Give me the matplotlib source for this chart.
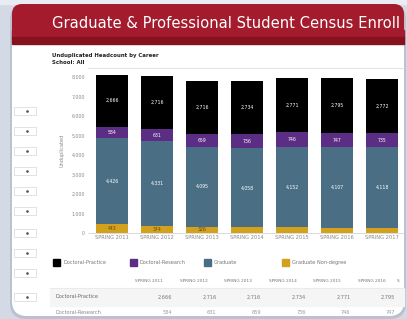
import matplotlib
matplotlib.use('Agg')
import matplotlib.pyplot as plt
from matplotlib.patches import FancyBboxPatch, Rectangle
import numpy as np

# data
semesters = ['SPRING 2011', 'SPRING 2012', 'SPRING 2013', 'SPRING 2014',
             'SPRING 2015', 'SPRING 2016', 'SPRING 2017']
doctoral_practice = [2666, 2716, 2716, 2734, 2771, 2795, 2772]
doctoral_research = [584, 631, 659, 736, 746, 747, 735]
graduate = [4426, 4331, 4095, 4058, 4152, 4107, 4118]
non_degree = [443, 374, 326, 290, 285, 280, 270]
careers = ['Doctoral-Practice', 'Doctoral-Research', 'Graduate', 'Graduate Non-degree']

colors = {'Doctoral-Practice': '#000000', 'Doctoral-Research': '#5b2d84',
          'Graduate': '#4a6f84', 'Graduate Non-degree': '#d4a11c'}

W, H = 407, 319
fig = plt.figure(figsize=(W / 100, H / 100), dpi=100)
fig.patch.set_facecolor('#d3d9e5')

# pixel-space layer for the page decoration
bg = fig.add_axes([0, 0, 1, 1])
bg.set_xlim(0, W)
bg.set_ylim(H, 0)
bg.axis('off')

bg.add_patch(Rectangle((0, 0), W, 4, color='#e9ecf2', zorder=0))
# card shadow + card
bg.add_patch(FancyBboxPatch((10, 4), 396, 315, boxstyle='round,pad=0,rounding_size=16',
                            fc='#aab2c2', ec='none', alpha=0.6, zorder=1))
card = FancyBboxPatch((12, 4), 392, 312, boxstyle='round,pad=0,rounding_size=15',
                      fc='white', ec='none', zorder=2)
bg.add_patch(card)

# red header
bg.add_patch(FancyBboxPatch((12, 4), 392, 39, boxstyle='round,pad=0,rounding_size=10',
                            fc='#a51b2e', ec='none', zorder=3))
bg.add_patch(Rectangle((12, 30), 392, 8, color='#a51b2e', zorder=3))
bg.add_patch(Rectangle((12, 37), 392, 7, color='#86121f', zorder=3))
# the screenshot cuts the title after "Enroll"
bg.text(52, 24, 'Graduate & Professional Student Census Enroll', color='white',
        fontsize=10.6, va='center', ha='left', zorder=4)

# chart subtitle
bg.text(52, 55, 'Unduplicated Headcount by Career', fontsize=3.9, fontweight='bold',
        color='#222222', va='center', zorder=4)
bg.text(52, 63, 'School: All', fontsize=3.9, fontweight='bold',
        color='#222222', va='center', zorder=4)
bg.plot([88, 404], [68, 68], color='#dddddd', lw=0.6, zorder=4)

# filter dropdowns on the left
for y in [111, 131, 151, 171, 191, 211, 233, 253, 273, 297]:
    bg.add_patch(Rectangle((14, y - 4), 22, 8, fc='white', ec='#d6d6d6', lw=0.5, zorder=4))
    bg.plot(27, y, marker='o', ms=0.9, color='#555555', zorder=5)

# legend
leg_x = [53, 130, 204, 282]
for x, name in zip(leg_x, careers):
    bg.add_patch(Rectangle((x, 259), 7, 7, color=colors[name], zorder=4))
    bg.text(x + 10, 262.5, name, fontsize=3.6, color='#777777', va='center', zorder=4)

# table under the chart
bg.add_patch(Rectangle((50, 288), 354, 18, color='#f5f5f5', zorder=3))
bg.plot([50, 404], [288, 288], color='#e6e6e6', lw=0.5, zorder=4)
for i, s in enumerate(semesters[:6]):
    bg.text(149 + 44.6 * i, 281, s, fontsize=3.1, color='#777777',
            ha='center', va='center', zorder=4)
    bg.text(172 + 44.6 * i, 297, f'{doctoral_practice[i]:,}', fontsize=3.6,
            color='#777777', ha='right', va='center', zorder=4)
    bg.text(172 + 44.6 * i, 313, f'{doctoral_research[i]:,}', fontsize=3.6,
            color='#999999', ha='right', va='center', zorder=4)
bg.text(397, 281, 'S', fontsize=3.1, color='#777777', ha='left', va='center', zorder=4)
bg.text(55, 297, 'Doctoral-Practice', fontsize=3.6, color='#666666', va='center', zorder=4)
bg.text(55, 313, 'Doctoral-Research', fontsize=3.6, color='#888888', va='center', zorder=4)

# stacked bar chart
ax = fig.add_axes([88 / W, (H - 233) / H, (404 - 88) / W, (233 - 68) / H])
ax.set_zorder(5)
ax.patch.set_alpha(0)
x = np.arange(len(semesters))
series = [non_degree, graduate, doctoral_research, doctoral_practice]
names = ['Graduate Non-degree', 'Graduate', 'Doctoral-Research', 'Doctoral-Practice']
bottom = np.zeros(len(semesters))
for vals, name in zip(series, names):
    vals = np.array(vals)
    ax.bar(x, vals, bottom=bottom, width=0.73, color=colors[name], linewidth=0)
    for xi, b, v in zip(x, bottom, vals):
        if v < 320:
            continue
        tc = '#5a4a20' if name == 'Graduate Non-degree' else 'white'
        ax.text(xi, b + v / 2, f'{v:,}', ha='center', va='center',
                fontsize=3.3, color=tc)
    bottom += vals

ax.set_xlim(-0.533, 6.49)
ax.set_ylim(0, 8465)
ax.set_yticks(range(0, 8001, 1000))
ax.set_yticklabels([f'{v:,}' for v in range(0, 8001, 1000)])
ax.set_xticks(x)
ax.set_xticklabels(semesters)
ax.tick_params(axis='both', length=0, labelsize=3.4, colors='#888888', pad=2)
ax.tick_params(axis='x', labelsize=3.7, pad=1.5)
for sp in ['top', 'right', 'left']:
    ax.spines[sp].set_visible(False)
ax.spines['bottom'].set_color('#cccccc')
ax.spines['bottom'].set_linewidth(0.5)
ax.set_ylabel('Unduplicated', fontsize=3.6, color='#888888', labelpad=5)

fig.savefig('out.png', dpi=100)
